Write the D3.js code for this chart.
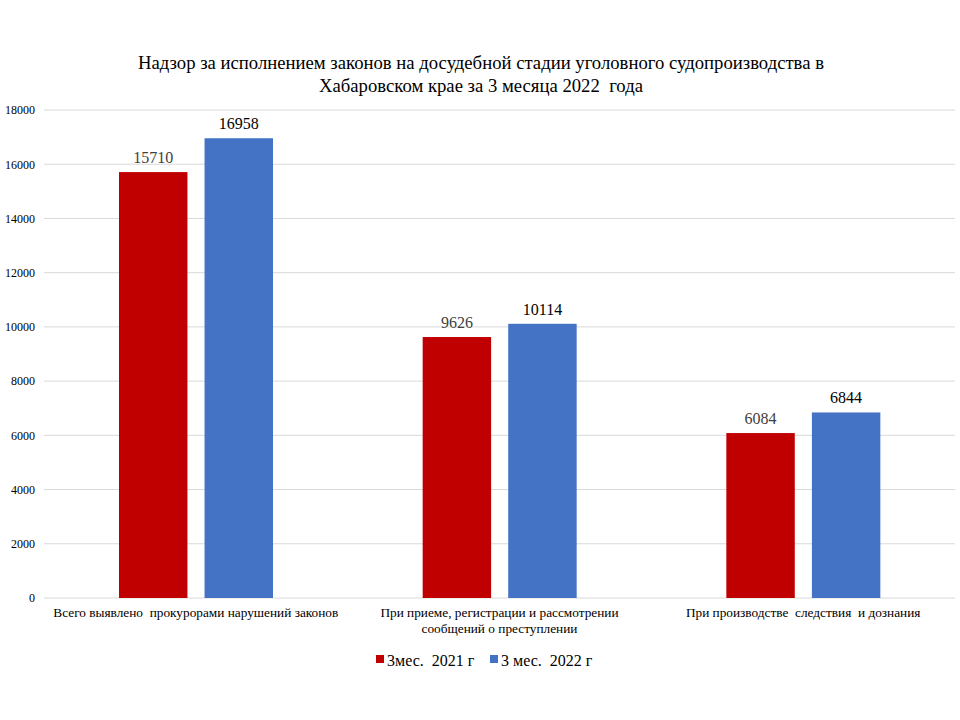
<!DOCTYPE html>
<html>
<head>
<meta charset="utf-8">
<script src="https://cdn.jsdelivr.net/npm/d3@7"></script>
<style>
  body { margin: 0; background: #fff; }
  svg { font-family: "Liberation Serif", "Times New Roman", serif; }
  svg text { font-family: "Liberation Serif", "Times New Roman", serif; }
</style>
</head>
<body>
<script>
const categories = [
  ["Всего выявлено  прокурорами нарушений законов"],
  ["При приеме, регистрации и рассмотрении", "сообщений о преступлении"],
  ["При производстве  следствия  и дознания"]
];
const seriesNames = ["3мес.  2021 г", "3 мес.  2022 г"];
const values2021 = [15710, 9626, 6084];
const values2022 = [16958, 10114, 6844];
const yTicks = [0, 2000, 4000, 6000, 8000, 10000, 12000, 14000, 16000, 18000];

const colors = ["#c00000", "#4472c4"];
const labelColors = ["#404040", "#000000"];

const w = 960;
const h = 720;
const margin = { top: 110, right: 5, bottom: 122, left: 44 };

const svg = d3.select("body")
  .append("svg")
  .attr("width", w)
  .attr("height", h);

const x0 = d3.scaleBand()
  .domain(d3.range(categories.length))
  .range([margin.left, w - margin.right]);

const x1 = d3.scaleBand()
  .domain([0, 1])
  .range([75, 229])
  .paddingInner(0.2);

const y = d3.scaleLinear()
  .domain([0, 18000])
  .range([h - margin.bottom, margin.top]);

// gridlines
svg.append("g")
  .selectAll("line")
  .data(yTicks)
  .join("line")
  .attr("x1", margin.left)
  .attr("x2", w - margin.right)
  .attr("y1", d => y(d))
  .attr("y2", d => y(d))
  .attr("stroke", "#d9d9d9")
  .attr("stroke-width", 1);

// y axis labels
const yAxis = d3.axisLeft(y).tickValues(yTicks).tickFormat(d3.format("d")).tickSize(0).tickPadding(0);
svg.append("g")
  .attr("transform", `translate(35,0)`)
  .call(yAxis)
  .attr("font-family", null)
  .call(g => g.select(".domain").remove())
  .selectAll("text")
  .style("font-size", "12px")
  .attr("fill", "#000");

const data = categories.map((c, i) => ({ i, vals: [values2021[i], values2022[i]] }));

const groups = svg.selectAll("g.cat")
  .data(data)
  .join("g")
  .attr("class", "cat")
  .attr("transform", d => `translate(${x0(d.i)},0)`);

groups.selectAll("rect")
  .data(d => d.vals.map((v, s) => ({ v, s })))
  .join("rect")
  .attr("x", d => x1(d.s))
  .attr("y", d => y(d.v))
  .attr("width", x1.bandwidth())
  .attr("height", d => y(0) - y(d.v))
  .attr("fill", d => colors[d.s]);

groups.selectAll("text.val")
  .data(d => d.vals.map((v, s) => ({ v, s })))
  .join("text")
  .attr("class", "val")
  .attr("x", d => x1(d.s) + x1.bandwidth() / 2)
  .attr("y", d => y(d.v) - 9)
  .attr("text-anchor", "middle")
  .style("font-size", "16px")
  .attr("fill", d => labelColors[d.s])
  .text(d => d.v);

// category labels
svg.append("g")
  .selectAll("text")
  .data(categories)
  .join("text")
  .attr("x", (d, i) => x0(i) + x0.bandwidth() / 2)
  .attr("y", 617)
  .attr("text-anchor", "middle")
  .style("font-size", "13.3px")
  .style("white-space", "pre")
  .attr("fill", "#000")
  .selectAll("tspan")
  .data(d => d)
  .join("tspan")
  .attr("x", function() { return this.parentNode.getAttribute("x"); })
  .attr("dy", (d, j) => j === 0 ? 0 : 16)
  .text(d => d);

// title
svg.append("text")
  .attr("x", 481)
  .attr("y", 69)
  .attr("text-anchor", "middle")
  .style("font-size", "18.7px")
  .style("white-space", "pre")
  .attr("fill", "#000")
  .selectAll("tspan")
  .data(["Надзор за исполнением законов на досудебной стадии уголовного судопроизводства в",
         "Хабаровском крае за 3 месяца 2022  года"])
  .join("tspan")
  .attr("x", 481)
  .attr("dy", (d, i) => i === 0 ? 0 : 23)
  .text(d => d);

// legend
const legend = svg.append("g");
const legendX = [376, 490];
seriesNames.forEach((name, i) => {
  legend.append("rect")
    .attr("x", legendX[i])
    .attr("y", 655)
    .attr("width", 8)
    .attr("height", 8)
    .attr("fill", colors[i]);
  legend.append("text")
    .attr("x", legendX[i] + 11)
    .attr("y", 666)
    .style("font-size", "16px")
    .style("white-space", "pre")
    .attr("fill", "#000")
    .text(name);
});
</script>
</body>
</html>
